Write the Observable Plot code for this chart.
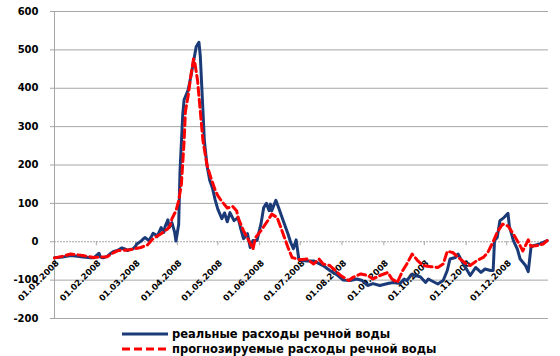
<!DOCTYPE html>
<html>
<head>
<meta charset="utf-8">
<script src="https://cdn.jsdelivr.net/npm/d3@7"></script>
<script src="https://cdn.jsdelivr.net/npm/@observablehq/plot@0.6"></script>
<style>
  html, body { margin: 0; padding: 0; background: #fff; }
  #wrap { position: relative; width: 560px; height: 356px; font-family: "DejaVu Sans", sans-serif; }
  #legend { position: absolute; left: 0; top: 322px; }
</style>
</head>
<body>
<div id="wrap">
  <div id="chart"></div>
  <svg id="legend" width="560" height="34"></svg>
</div>
<script>
const yTicks = [-200, -100, 0, 100, 200, 300, 400, 500, 600];
const monthLabels = ["01.01.2008","01.02.2008","01.03.2008","01.04.2008","01.05.2008","01.06.2008",
                     "01.07.2008","01.08.2008","01.09.2008","01.10.2008","01.11.2008","01.12.2008"];
const seriesNames = ["реальные расходы речной воды", "прогнозируемые расходы речной воды"];

const actualDates = ["2008-01-01","2008-01-07","2008-01-13","2008-01-18","2008-01-22","2008-01-28","2008-01-30",
 "2008-02-01","2008-02-03","2008-02-04","2008-02-06","2008-02-09","2008-02-11","2008-02-14","2008-02-17","2008-02-19",
 "2008-02-20","2008-02-23","2008-02-24","2008-02-26","2008-02-28","2008-03-01","2008-03-02","2008-03-05","2008-03-07",
 "2008-03-08","2008-03-11","2008-03-13","2008-03-14","2008-03-16","2008-03-17","2008-03-20","2008-03-22","2008-03-23",
 "2008-03-25","2008-03-26","2008-03-28","2008-03-30","2008-03-31","2008-04-02","2008-04-03","2008-04-05","2008-04-06",
 "2008-04-09","2008-04-11","2008-04-13","2008-04-15","2008-04-17","2008-04-18","2008-04-20","2008-04-21","2008-04-23",
 "2008-04-25","2008-04-27","2008-04-29","2008-05-01","2008-05-04","2008-05-06","2008-05-08","2008-05-10","2008-05-13",
 "2008-05-16","2008-05-18","2008-05-20","2008-05-23","2008-05-25","2008-05-27","2008-05-30","2008-06-02","2008-06-04",
 "2008-06-06","2008-06-08","2008-06-09","2008-06-10","2008-06-13","2008-06-15","2008-06-18","2008-06-22","2008-06-24",
 "2008-06-26","2008-06-28","2008-06-30","2008-07-03","2008-07-06","2008-07-11","2008-07-15","2008-07-18","2008-07-23",
 "2008-07-29","2008-08-02","2008-08-07","2008-08-12","2008-08-16","2008-08-20","2008-08-24","2008-08-29","2008-09-04",
 "2008-09-08","2008-09-13","2008-09-16","2008-09-18","2008-09-22","2008-09-24","2008-09-28","2008-10-02","2008-10-04",
 "2008-10-06","2008-10-11","2008-10-15","2008-10-18","2008-10-20","2008-10-24","2008-10-26","2008-10-30","2008-11-04",
 "2008-11-08","2008-11-12","2008-11-15","2008-11-19","2008-11-21","2008-11-22","2008-11-24","2008-11-26","2008-11-29",
 "2008-12-02","2008-12-03","2008-12-06","2008-12-09","2008-12-11","2008-12-15","2008-12-17","2008-12-19","2008-12-21",
 "2008-12-26","2008-12-31"];
const actualValues = [-42,-40,-36,-38,-40,-42,-42,
 -36,-30,-40,-42,-38,-32,-25,-22,-18,
 -16,-20,-23,-20,-19,-12,-6,1,8,
 11,3,15,22,18,13,37,24,40,
 57,37,50,25,2,45,185,330,370,
 395,430,470,508,520,485,340,265,198,
 160,140,110,85,60,75,52,76,55,
 63,34,8,21,-15,3,3,47,89,
 100,81,98,81,108,89,59,20,-2,
 -18,5,-45,-49,-50,-50,-57,-62,-75,
 -88,-100,-101,-97,-101,-114,-109,-114,-109,
 -106,-109,-97,-101,-84,-88,-91,-106,-97,
 -101,-110,-101,-75,-45,-41,-32,-58,-88,
 -67,-80,-71,-75,-75,3,11,55,63,
 74,40,3,-20,-45,-62,-78,-15,-10,
 -5,3];

const forecastDates = ["2008-01-01","2008-01-07","2008-01-13","2008-01-18","2008-01-22","2008-01-30","2008-02-04",
 "2008-02-09","2008-02-13","2008-02-17","2008-02-22","2008-02-26","2008-03-01","2008-03-05","2008-03-10","2008-03-14",
 "2008-03-20","2008-03-25","2008-03-27","2008-03-28","2008-03-31","2008-04-02","2008-04-04","2008-04-06","2008-04-07",
 "2008-04-09","2008-04-11","2008-04-13","2008-04-14","2008-04-16","2008-04-18","2008-04-20","2008-04-23","2008-04-26",
 "2008-04-29","2008-05-01","2008-05-04","2008-05-08","2008-05-12","2008-05-15","2008-05-16","2008-05-20","2008-05-24",
 "2008-05-27","2008-05-29","2008-06-02","2008-06-07","2008-06-10","2008-06-14","2008-06-18","2008-06-22","2008-06-25",
 "2008-07-01","2008-07-06","2008-07-11","2008-07-15","2008-07-18","2008-07-23","2008-07-31","2008-08-06","2008-08-09",
 "2008-08-15","2008-08-20","2008-08-24","2008-08-29","2008-09-04","2008-09-07","2008-09-11","2008-09-15","2008-09-18",
 "2008-09-22","2008-09-26","2008-09-30","2008-10-06","2008-10-11","2008-10-15","2008-10-18","2008-10-22","2008-10-26",
 "2008-10-31","2008-11-04","2008-11-09","2008-11-14","2008-11-17","2008-11-21","2008-11-24","2008-11-28","2008-12-02",
 "2008-12-06","2008-12-10","2008-12-13","2008-12-17","2008-12-19","2008-12-24","2008-12-28","2008-12-31"];
const forecastValues = [-42,-38,-32,-34,-36,-41,-40,
 -39,-30,-23,-22,-21,-18,-15,-8,8,
 21,34,45,60,81,107,150,260,340,
 380,432,476,466,420,341,263,200,165,
 135,120,105,88,92,80,63,29,3,
 -19,11,29,55,72,63,24,-15,-41,
 -47,-45,-58,-45,-58,-62,-88,-101,-93,
 -84,-88,-97,-88,-80,-97,-106,-75,-58,
 -32,-49,-62,-65,-67,-58,-25,-28,-40,
 -55,-62,-49,-40,-28,0,25,46,41,
 20,-4,-24,5,-12,-10,-6,3];

const parseISO = d3.utcParse("%Y-%m-%d");
const parseLabel = d3.utcParse("%d.%m.%Y");
const actual = actualDates.map((d, i) => ({date: parseISO(d), value: actualValues[i]}));
const forecast = forecastDates.map((d, i) => ({date: parseISO(d), value: forecastValues[i]}));
const months = monthLabels.map((l) => ({date: parseLabel(l), label: l}));
const xDomain = [parseISO("2008-01-01"), parseISO("2009-01-01")];

const blue = "#1b3a78";
const red = "#ff0000";
const grid = "#a6a6a6";

const chart = Plot.plot({
  width: 560,
  height: 330,
  marginLeft: 54,
  marginRight: 12,
  marginTop: 11,
  marginBottom: 12,
  style: {fontFamily: "DejaVu Sans, sans-serif", background: "transparent", color: "#000", overflow: "visible"},
  x: {type: "utc", domain: xDomain, axis: null},
  y: {domain: [-200, 600], axis: null},
  marks: [
    Plot.ruleY(yTicks.filter((t) => t !== 0), {stroke: grid, strokeWidth: 1}),
    Plot.ruleY([0], {stroke: grid, strokeWidth: 1, strokeDasharray: "2,1"}),
    Plot.ruleX([xDomain[0]], {stroke: grid, strokeWidth: 1}),
    Plot.axisY({ticks: yTicks, tickSize: 4, tickPadding: 12, tickFormat: (d) => String(d), label: null,
                fontSize: 10, fontWeight: "bold", stroke: grid, fill: "#000"}),
    Plot.ruleX(months, {x: "date", y1: () => 0, y2: () => 0, insetTop: 4, stroke: grid}),
    Plot.text(months, {x: "date", y: () => 0, text: "label", rotate: -45, textAnchor: "end",
                       dx: 3, dy: 20, fontSize: 8.5, fontWeight: "bold", fill: "#000"}),
    Plot.line(actual, {x: "date", y: "value", stroke: blue, strokeWidth: 3, strokeLinejoin: "round"}),
    Plot.line(forecast, {x: "date", y: "value", stroke: red, strokeWidth: 3, strokeDasharray: "8,4"})
  ]
});
document.getElementById("chart").appendChild(chart);

// legend
const lg = d3.select("#legend");
const rows = [{y: 12, color: blue, dash: null}, {y: 27, color: red, dash: "8,4"}];
rows.forEach((r, i) => {
  lg.append("line").attr("x1", 122).attr("x2", 168).attr("y1", r.y).attr("y2", r.y)
    .attr("stroke", r.color).attr("stroke-width", 3).attr("stroke-dasharray", r.dash);
  lg.append("text").attr("x", 172).attr("y", r.y).attr("dy", "0.35em")
    .attr("font-family", "DejaVu Sans, sans-serif").attr("font-size", 11.5).attr("font-weight", "bold")
    .attr("fill", "#000").text(seriesNames[i]);
});
</script>
</body>
</html>
